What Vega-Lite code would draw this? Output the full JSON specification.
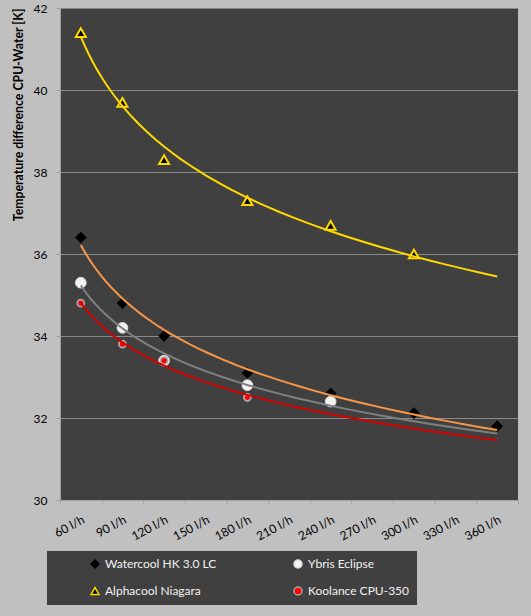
{
  "$schema": "https://vega.github.io/schema/vega-lite/v6.json",
  "autosize": {"type": "none"},
  "padding": {"left": 60, "top": 8, "right": 13, "bottom": 116},
  "width": 458,
  "height": 492,
  "background": "#c0c0c0",
  "data": {
    "values": [
      {"series": "Watercool HK 3.0 LC", "cat": 1, "flow": "60 l/h", "temp": 36.4},
      {"series": "Watercool HK 3.0 LC", "cat": 2, "flow": "90 l/h", "temp": 34.8},
      {"series": "Watercool HK 3.0 LC", "cat": 3, "flow": "120 l/h", "temp": 34.0},
      {"series": "Watercool HK 3.0 LC", "cat": 5, "flow": "180 l/h", "temp": 33.1},
      {"series": "Watercool HK 3.0 LC", "cat": 7, "flow": "240 l/h", "temp": 32.6},
      {"series": "Watercool HK 3.0 LC", "cat": 9, "flow": "300 l/h", "temp": 32.12},
      {"series": "Watercool HK 3.0 LC", "cat": 11, "flow": "360 l/h", "temp": 31.8},
      {"series": "Ybris Eclipse", "cat": 1, "flow": "60 l/h", "temp": 35.3},
      {"series": "Ybris Eclipse", "cat": 2, "flow": "90 l/h", "temp": 34.2},
      {"series": "Ybris Eclipse", "cat": 3, "flow": "120 l/h", "temp": 33.4},
      {"series": "Ybris Eclipse", "cat": 5, "flow": "180 l/h", "temp": 32.8},
      {"series": "Ybris Eclipse", "cat": 7, "flow": "240 l/h", "temp": 32.4},
      {"series": "Alphacool Niagara", "cat": 1, "flow": "60 l/h", "temp": 41.4},
      {"series": "Alphacool Niagara", "cat": 2, "flow": "90 l/h", "temp": 39.7},
      {"series": "Alphacool Niagara", "cat": 3, "flow": "120 l/h", "temp": 38.3},
      {"series": "Alphacool Niagara", "cat": 5, "flow": "180 l/h", "temp": 37.3},
      {"series": "Alphacool Niagara", "cat": 7, "flow": "240 l/h", "temp": 36.7},
      {"series": "Alphacool Niagara", "cat": 9, "flow": "300 l/h", "temp": 36.0},
      {"series": "Koolance CPU-350", "cat": 1, "flow": "60 l/h", "temp": 34.8},
      {"series": "Koolance CPU-350", "cat": 2, "flow": "90 l/h", "temp": 33.8},
      {"series": "Koolance CPU-350", "cat": 3, "flow": "120 l/h", "temp": 33.4},
      {"series": "Koolance CPU-350", "cat": 5, "flow": "180 l/h", "temp": 32.5}
    ]
  },
  "encoding": {
    "x": {
      "field": "cat",
      "type": "quantitative",
      "scale": {"domain": [0.5, 11.5], "nice": false, "zero": false},
      "axis": {
        "title": null,
        "values": [0.5, 1.5, 2.5, 3.5, 4.5, 5.5, 6.5, 7.5, 8.5, 9.5, 10.5, 11.5],
        "labelExpr": "datum.value < 11 ? (datum.value * 30 + 45) + ' l/h' : ''",
        "labelOffset": 20.8,
        "labelAngle": -28,
        "labelPadding": 10,
        "grid": false
      }
    },
    "y": {
      "field": "temp",
      "type": "quantitative",
      "scale": {"domain": [30, 42], "nice": false, "zero": false},
      "axis": {
        "title": "Temperature difference CPU-Water [K]",
        "values": [30, 32, 34, 36, 38, 40, 42],
        "grid": true,
        "titleAnchor": "end",
        "titlePadding": 8,
        "labelPadding": 9
      }
    }
  },
  "layer": [
    {
      "encoding": {
        "shape": {
          "field": "series",
          "type": "nominal",
          "scale": {
            "domain": ["Watercool HK 3.0 LC", "Alphacool Niagara", "Ybris Eclipse", "Koolance CPU-350"],
            "range": ["diamond", "triangle-up", "circle", "circle"]
          },
          "legend": {
            "title": null,
            "orient": "none",
            "legendX": -13,
            "legendY": 543,
            "columns": 2,
            "gridAlign": "all",
            "fillColor": "#404040",
            "padding": 7,
            "rowPadding": 13,
            "columnPadding": 40,
            "symbolOffset": 35,
            "labelOffset": 4
          }
        },
        "fill": {
          "field": "series",
          "type": "nominal",
          "scale": {
            "domain": ["Watercool HK 3.0 LC", "Alphacool Niagara", "Ybris Eclipse", "Koolance CPU-350"],
            "range": ["#000000", "#000000", "#f2f2f2", "#ff0000"]
          },
          "legend": {
            "title": null,
            "orient": "none",
            "legendX": -13,
            "legendY": 543,
            "columns": 2,
            "gridAlign": "all",
            "fillColor": "#404040",
            "padding": 7,
            "rowPadding": 13,
            "columnPadding": 40,
            "symbolOffset": 35,
            "labelOffset": 4
          }
        },
        "stroke": {
          "field": "series",
          "type": "nominal",
          "scale": {
            "domain": ["Watercool HK 3.0 LC", "Alphacool Niagara", "Ybris Eclipse", "Koolance CPU-350"],
            "range": ["#000000", "#ffd800", "#dcdcdc", "#a6a6a6"]
          },
          "legend": {
            "title": null,
            "orient": "none",
            "legendX": -13,
            "legendY": 543,
            "columns": 2,
            "gridAlign": "all",
            "fillColor": "#404040",
            "padding": 7,
            "rowPadding": 13,
            "columnPadding": 40,
            "symbolOffset": 35,
            "labelOffset": 4
          }
        }
      },
      "layer": [
        {
          "transform": [{"filter": "datum.series == 'Watercool HK 3.0 LC' || datum.series == 'Ybris Eclipse'"}],
          "mark": {"type": "point", "filled": true, "opacity": 1, "size": 115, "strokeWidth": 1}
        },
        {
          "transform": [{"filter": "datum.series == 'Alphacool Niagara'"}],
          "mark": {"type": "point", "filled": true, "opacity": 1, "size": 100, "strokeWidth": 2}
        },
        {
          "transform": [{"filter": "datum.series == 'Koolance CPU-350'"}],
          "mark": {"type": "point", "filled": true, "opacity": 1, "size": 49, "strokeWidth": 1.8}
        }
      ]
    },
    {
      "transform": [
        {"regression": "temp", "on": "cat", "groupby": ["series"], "method": "log", "extent": [1, 11]}
      ],
      "mark": {"type": "line", "strokeWidth": 2},
      "encoding": {
        "color": {
          "field": "series",
          "type": "nominal",
          "legend": null,
          "scale": {
            "domain": ["Watercool HK 3.0 LC", "Ybris Eclipse", "Alphacool Niagara", "Koolance CPU-350"],
            "range": ["#f79646", "#808080", "#ffd800", "#d40000"]
          }
        }
      }
    }
  ],
  "config": {
    "font": "Lato",
    "view": {"fill": "#404040", "stroke": null},
    "axis": {
      "labelFont": "Lato",
      "labelFontSize": 12,
      "labelColor": "#000000",
      "titleFont": "Lato",
      "titleFontSize": 12.3,
      "titleFontWeight": "bold",
      "titleColor": "#000000",
      "domainColor": "#a0a0a0",
      "tickColor": "#a0a0a0",
      "tickSize": 4,
      "gridColor": "#8a8a8a",
      "gridWidth": 1
    },
    "legend": {
      "labelColor": "#f2f2f2",
      "labelFont": "Lato",
      "labelFontSize": 12,
      "symbolSize": 64,
      "symbolStrokeWidth": 1.5
    }
  }
}
